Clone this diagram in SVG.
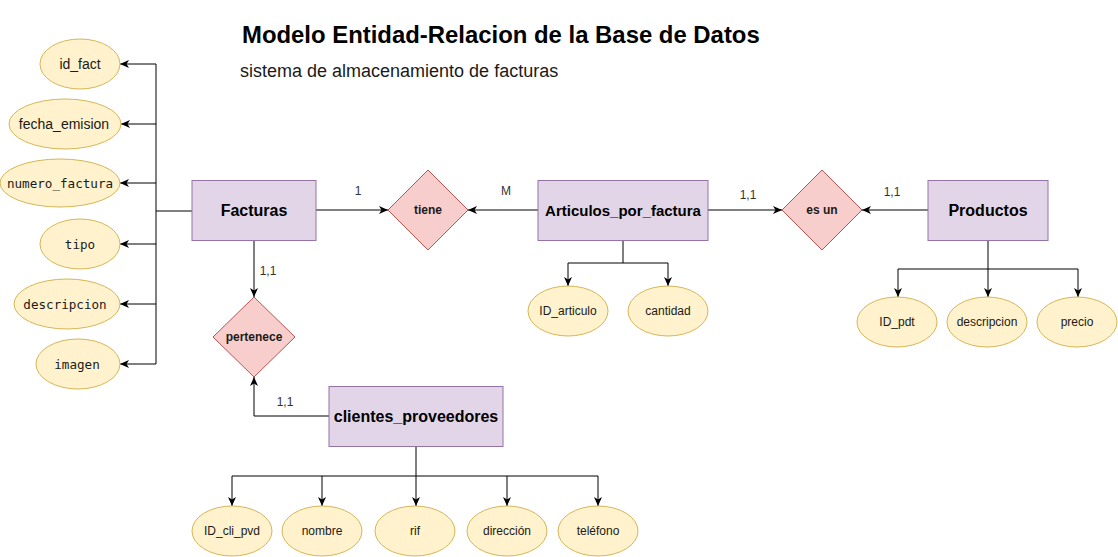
<svg xmlns="http://www.w3.org/2000/svg" width="1118" height="557" viewBox="0 0 1118 557">
<style>
.ent{fill:#e1d5e7;stroke:#9673a6;stroke-width:1}
.rel{fill:#f8cecc;stroke:#b85450;stroke-width:1}
.att{fill:#fff2cc;stroke:#d6b656;stroke-width:1}
.et{font-family:"Liberation Sans",Arial,sans-serif;font-weight:bold;font-size:16px;fill:#000;text-anchor:middle;dominant-baseline:central}
.rt{font-family:"Liberation Sans",Arial,sans-serif;font-weight:bold;font-size:12px;fill:#1a1a1a;text-anchor:middle;dominant-baseline:central}
.at{font-family:"Liberation Sans",Arial,sans-serif;font-size:12px;fill:#1a1a1a;text-anchor:middle;dominant-baseline:central}
.st{font-family:"Liberation Sans",Arial,sans-serif;font-size:14px;fill:#1a1a1a;text-anchor:middle;dominant-baseline:central}
.mt{font-family:"DejaVu Sans Mono","Liberation Mono",monospace;font-size:12.6px;fill:#1a1a1a;text-anchor:middle;dominant-baseline:central}
.lb{font-family:"Liberation Sans",Arial,sans-serif;font-size:12px;fill:#333;text-anchor:middle;dominant-baseline:central}
.ln{fill:none;stroke:#000;stroke-width:1}
.ar{marker-end:url(#arr)}
</style>
<defs>
<marker id="arr" markerUnits="userSpaceOnUse" markerWidth="10" markerHeight="8" refX="9" refY="4" orient="auto">
<path d="M0,0 L9,4 L0,8 L2.5,4 Z" fill="#000"/>
</marker>
</defs>
<rect width="1118" height="557" fill="#fff"/>
<g id="title">
<text x="242" y="43" font-family="Liberation Sans,Arial,sans-serif" font-weight="bold" font-size="23.9" fill="#000">Modelo Entidad-Relacion de la Base de Datos</text>
<text x="240" y="77" font-family="Liberation Sans,Arial,sans-serif" font-size="18" fill="#1a1a1a">sistema de almacenamiento de facturas</text>
</g>
<g id="connectors">
<path class="ln" d="M192,211 H156"/>
<path class="ln" d="M156,64 V364"/>
<path class="ln ar" d="M156,64 H120"/>
<path class="ln ar" d="M156,124 H121"/>
<path class="ln ar" d="M156,183 H120"/>
<path class="ln ar" d="M156,244 H120"/>
<path class="ln ar" d="M156,304 H120"/>
<path class="ln ar" d="M156,364 H120"/>
<path class="ln ar" d="M316,210 H388"/>
<path class="ln ar" d="M538,210 H468"/>
<path class="ln ar" d="M708,210 H782"/>
<path class="ln ar" d="M928,210 H862"/>
<path class="ln ar" d="M254,240 V297"/>
<path class="ln ar" d="M329,416 H254 V377"/>
<path class="ln" d="M623,240 V263 M568,263 H668"/>
<path class="ln ar" d="M568,263 V286"/>
<path class="ln ar" d="M668,263 V286"/>
<path class="ln" d="M988,240 V269 M898,269 H1078"/>
<path class="ln ar" d="M898,269 V297"/>
<path class="ln ar" d="M988,269 V297"/>
<path class="ln ar" d="M1078,269 V297"/>
<path class="ln" d="M416,446 V476 M232,476 H598"/>
<path class="ln ar" d="M232,476 V506"/>
<path class="ln ar" d="M322,476 V506"/>
<path class="ln ar" d="M416,476 V506"/>
<path class="ln ar" d="M507,476 V506"/>
<path class="ln ar" d="M598,476 V506"/>
<text class="lb" x="358" y="191">1</text>
<text class="lb" x="506" y="191">M</text>
<text class="lb" x="748" y="195">1,1</text>
<text class="lb" x="892" y="192">1,1</text>
<text class="lb" x="268" y="271">1,1</text>
<text class="lb" x="285" y="402">1,1</text>
</g>
<g id="facturas"><rect class="ent" x="192" y="180.5" width="124" height="60"/><text class="et" x="254" y="210.5">Facturas</text></g>
<g id="articulos"><rect class="ent" x="538" y="180.5" width="170" height="60"/><text class="et" x="623" y="210.5" style="font-size:15px">Articulos_por_factura</text></g>
<g id="productos"><rect class="ent" x="928" y="180.5" width="120" height="60"/><text class="et" x="988" y="210.5">Productos</text></g>
<g id="clientes"><rect class="ent" x="329" y="386.5" width="174" height="60"/><text class="et" x="416" y="416.5">clientes_proveedores</text></g>
<g id="tiene"><path class="rel" d="M428,170 L468,210 L428,250 L388,210 Z"/><text class="rt" x="428" y="210">tiene</text></g>
<g id="esun"><path class="rel" d="M822,170 L862,210 L822,250 L782,210 Z"/><text class="rt" x="822" y="210">es un</text></g>
<g id="pertenece"><path class="rel" d="M254,297 L295,337 L254,377 L213,337 Z"/><text class="rt" x="254" y="337">pertenece</text></g>
<g id="a_id_fact"><ellipse class="att" cx="80" cy="64" rx="40" ry="25"/><text class="st" x="80" y="64">id_fact</text></g>
<g id="a_fecha"><ellipse class="att" cx="65" cy="124" rx="56" ry="25"/><text class="st" x="64" y="124">fecha_emision</text></g>
<g id="a_numero"><ellipse class="att" cx="60" cy="183" rx="60" ry="24"/><text class="mt" x="60" y="183">numero_factura</text></g>
<g id="a_tipo"><ellipse class="att" cx="80" cy="244" rx="40" ry="25"/><text class="mt" x="80" y="244">tipo</text></g>
<g id="a_desc"><ellipse class="att" cx="67" cy="304" rx="53" ry="25"/><text class="mt" x="65" y="304">descripcion</text></g>
<g id="a_imagen"><ellipse class="att" cx="78" cy="364" rx="42" ry="25"/><text class="mt" x="77" y="364">imagen</text></g>
<g id="a_id_articulo"><ellipse class="att" cx="568" cy="311" rx="40" ry="25"/><text class="at" x="568" y="311">ID_articulo</text></g>
<g id="a_cantidad"><ellipse class="att" cx="668" cy="311" rx="40" ry="25"/><text class="at" x="668" y="311">cantidad</text></g>
<g id="a_id_pdt"><ellipse class="att" cx="897" cy="322" rx="40" ry="25"/><text class="at" x="897" y="322">ID_pdt</text></g>
<g id="a_descripcion"><ellipse class="att" cx="987" cy="322" rx="40" ry="25"/><text class="at" x="987" y="322">descripcion</text></g>
<g id="a_precio"><ellipse class="att" cx="1077" cy="322" rx="40" ry="25"/><text class="at" x="1077" y="322">precio</text></g>
<g id="a_id_cli"><ellipse class="att" cx="232" cy="531" rx="40" ry="25"/><text class="at" x="232" y="531">ID_cli_pvd</text></g>
<g id="a_nombre"><ellipse class="att" cx="322" cy="531" rx="40" ry="25"/><text class="at" x="322" y="531">nombre</text></g>
<g id="a_rif"><ellipse class="att" cx="415" cy="531" rx="40" ry="25"/><text class="at" x="415" y="531">rif</text></g>
<g id="a_direccion"><ellipse class="att" cx="507" cy="531" rx="40" ry="25"/><text class="at" x="507" y="531">dirección</text></g>
<g id="a_telefono"><ellipse class="att" cx="598" cy="531" rx="40" ry="25"/><text class="at" x="598" y="531">teléfono</text></g>
</svg>
